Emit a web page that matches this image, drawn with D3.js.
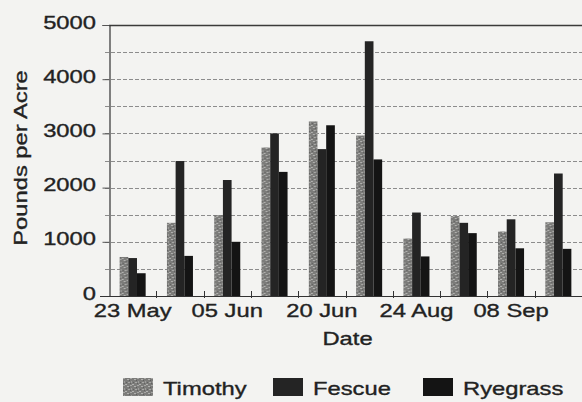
<!DOCTYPE html>
<html>
<head>
<meta charset="utf-8">
<script src="https://cdn.jsdelivr.net/npm/d3@7"></script>
<style>
  html, body { margin: 0; padding: 0; background: #f3f3f1; }
  svg { display: block; }
  text { font-family: "Liberation Sans", Arial, sans-serif; fill: #222; stroke: #222; stroke-width: 0.35px; }
</style>
</head>
<body>
<svg id="chart" width="582" height="402"></svg>
<script>
// ---- data ----
const categories = ["23 May", "29 May", "05 Jun", "12 Jun", "20 Jun", "27 Jun", "24 Aug", "31 Aug", "08 Sep", "15 Sep"];
const shownLabels = ["23 May", "05 Jun", "20 Jun", "24 Aug", "08 Sep"];
const seriesNames = ["Timothy", "Fescue", "Ryegrass"];
const timothy  = [720, 1350, 1490, 2740, 3220, 2960, 1060, 1475, 1190, 1360];
const fescue   = [700, 2490, 2140, 3000, 2710, 4700, 1540, 1350, 1415, 2260];
const ryegrass = [420,  740, 1000, 2290, 3150, 2520,  730, 1160,  880,  870];
const yTicks = [0, 1000, 2000, 3000, 4000, 5000];
const yGrid = [500, 1000, 1500, 2000, 2500, 3000, 3500, 4000, 4500];

const seriesValues = [timothy, fescue, ryegrass];
const W = 582, H = 402;
const m = { left: 109, right: 0, top: 25, bottom: 106 };
const SX = 1.25; // horizontal glyph stretch of the reference
const FS = 19;

const svg = d3.select("#chart");
svg.append("rect").attr("width", W).attr("height", H).attr("fill", "#f3f3f1");

// pattern for Timothy (mottled gray)
const defs = svg.append("defs");
const pat = defs.append("pattern").attr("id", "speck").attr("patternUnits", "userSpaceOnUse")
  .attr("width", 7).attr("height", 7);
pat.append("rect").attr("width", 7).attr("height", 7).attr("fill", "#7c7c7a");
[[0,0,2,1,"#a6a6a4"],[4,1,2,1,"#b0b0ae"],[1,3,1,2,"#9c9c9a"],[5,4,2,1,"#a8a8a6"],[2,6,2,1,"#b2b2b0"],[6,2,1,1,"#5e5e5e"],[3,4,1,1,"#606060"],[0,5,1,1,"#626262"]].forEach(r => {
  pat.append("rect").attr("x", r[0]).attr("y", r[1]).attr("width", r[2]).attr("height", r[3]).attr("fill", r[4]);
});
const colors = ["url(#speck)", "#242424", "#141414"];

const x0 = d3.scaleBand().domain(categories).range([m.left, W - m.right]).paddingInner(0).paddingOuter(0);
const groupW = x0.bandwidth() * 0.55;
const x1 = d3.scaleBand().domain(seriesNames).range([0, groupW]).padding(0);
const y = d3.scaleLinear().domain([0, 5000]).range([296, m.top]);

// grid
svg.append("g").selectAll("line").data(yGrid).join("line")
  .attr("x1", m.left - 4).attr("x2", W)
  .attr("y1", d => Math.round(y(d)) + 0.5).attr("y2", d => Math.round(y(d)) + 0.5)
  .attr("stroke", "#8c8c8c").attr("stroke-width", 1).attr("stroke-dasharray", "4,2");

// top border
svg.append("line").attr("x1", m.left).attr("x2", W)
  .attr("y1", y(5000) + 0.5).attr("y2", y(5000) + 0.5)
  .attr("stroke", "#3a3a3a").attr("stroke-width", 1.5);

// bars
const groups = svg.append("g").selectAll("g").data(categories).join("g")
  .attr("transform", d => `translate(${x0(d) + (x0.bandwidth() - groupW) / 2},0)`);
groups.selectAll("rect").data((d, i) => seriesNames.map((s, k) => ({ s, k, v: seriesValues[k][i] })))
  .join("rect")
  .attr("x", d => x1(d.s))
  .attr("width", x1.bandwidth())
  .attr("y", d => y(d.v))
  .attr("height", d => y(0) - y(d.v))
  .attr("fill", d => colors[d.k]);

// y axis
const yAxis = d3.axisLeft(y).tickValues(yTicks).tickSize(7).tickFormat(d3.format("d"));
const gy = svg.append("g").attr("transform", `translate(${m.left + 0.5},0)`).call(yAxis);
gy.select(".domain").attr("stroke", "#333").attr("stroke-width", 1.2);
gy.selectAll(".tick line").attr("stroke", "#555");
gy.selectAll(".tick text").remove();
svg.append("g").selectAll("text").data(yTicks).join("text")
  .attr("transform", d => `translate(96,${y(d) - 3}) scale(${SX},1)`)
  .attr("text-anchor", "end").attr("dy", "0.35em")
  .style("font-size", FS + "px")
  .text(d => d3.format("d")(d));

// x axis
svg.append("line").attr("x1", m.left - 9).attr("x2", W)
  .attr("y1", y(0) + 0.5).attr("y2", y(0) + 0.5)
  .attr("stroke", "#333").attr("stroke-width", 1.2);
svg.append("g").selectAll("line").data(categories.slice(1)).join("line")
  .attr("x1", d => Math.round(x0(d)) + 0.5).attr("x2", d => Math.round(x0(d)) + 0.5)
  .attr("y1", y(0) - 5).attr("y2", y(0) + 2)
  .attr("stroke", "#333").attr("stroke-width", 1);
svg.append("g").selectAll("text").data(shownLabels).join("text")
  .attr("transform", d => `translate(${x0(d) + x0.bandwidth() / 2},317) scale(${SX},1)`)
  .attr("text-anchor", "middle")
  .style("font-size", FS + "px")
  .text(d => d);

// axis titles
svg.append("text")
  .attr("transform", `translate(${(m.left + W) / 2 + 2},345) scale(${SX},1)`)
  .attr("text-anchor", "middle").style("font-size", FS + "px").text("Date");
svg.append("text")
  .attr("transform", `translate(27,158) rotate(-90) scale(${SX},1)`)
  .attr("text-anchor", "middle").style("font-size", FS + "px").text("Pounds per Acre");

// legend
const leg = svg.append("g").selectAll("g").data(seriesNames).join("g")
  .attr("transform", (d, i) => `translate(${123 + i * 150},378)`);
leg.append("rect").attr("width", 30).attr("height", 18).attr("fill", (d, i) => colors[i]);
leg.append("text")
  .attr("transform", `translate(40,17) scale(${SX},1)`)
  .style("font-size", FS + "px").text(d => d);
</script>
</body>
</html>
